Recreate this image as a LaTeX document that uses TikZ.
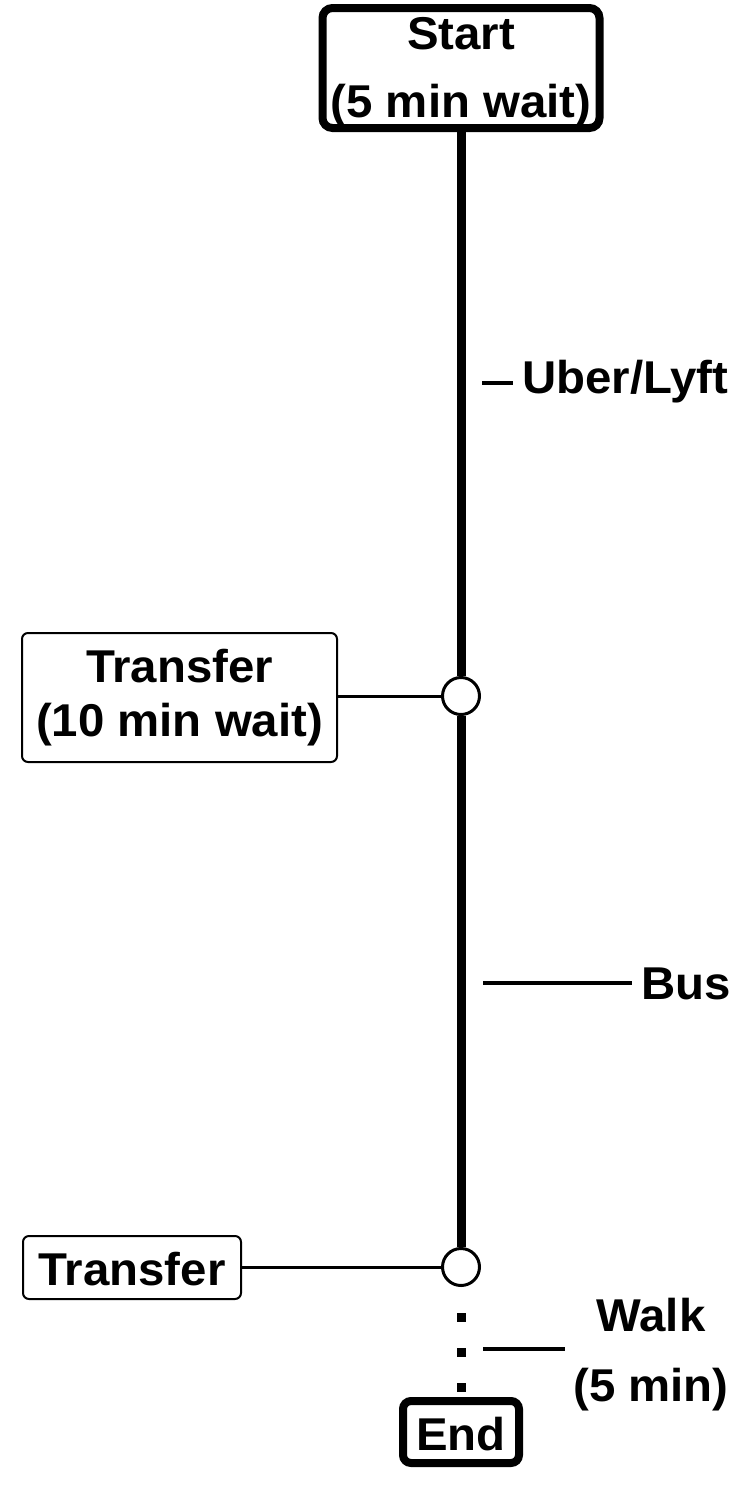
\documentclass[tikz,border=0pt]{standalone}
\usepackage{fontspec}
\setmainfont[FakeStretch=1.03]{Liberation Sans}
\begin{document}
\begin{tikzpicture}[x=1pt,y=-1pt,
  txt/.style={font=\fontsize{46}{54}\selectfont\bfseries, inner sep=0pt},
  bigbox/.style={txt, draw, line width=8pt, rounded corners=10pt, align=center},
  smallbox/.style={txt, draw, line width=2pt, rounded corners=6pt, align=center},
  stop/.style={circle, draw, fill=white, line width=3pt, minimum size=37pt, inner sep=0pt},
  route/.style={line width=9pt},
  walkline/.style={line width=9pt, dash pattern=on 9pt off 26pt, dash phase=9pt},
  link/.style={line width=3pt},
  tick/.style={line width=3.5pt}
]
\useasboundingbox (0,0) rectangle (750,1500);

% boxes
\node[bigbox, minimum width=277pt, minimum height=120pt,
      font=\fontsize{46}{68}\selectfont\bfseries] (start) at (461,68)
      {\rule{0pt}{39.7pt}Start\\(5 min wait)};
\node[smallbox, minimum width=315pt, minimum height=129pt] (t1) at (179.5,697.5)
      {Transfer\\(10 min wait)};
\node[smallbox, minimum width=218pt, minimum height=63pt, text height=35pt, text depth=0pt] (t2) at (132,1267.5)
      {Transfer};
\node[bigbox, rounded corners=8pt, minimum width=116pt, minimum height=62pt, text height=36pt, text depth=0pt] (end) at (461,1432)
      {End};

% stops
\node[stop] (c1) at (461,696) {};
\node[stop] (c2) at (461,1267) {};

% route
\draw[route] (start.south) -- (c1.north);
\draw[route] (c1.south) -- (c2.north);
\draw[walkline] (c2.south) -- (end.north);

% transfer connectors
\draw[link] (c1.west) -- (c1.west -| t1.east);
\draw[link] (c2.west) -- (c2.west -| t2.east);

% mode labels
\node[txt, anchor=base west] (uber) at (522,393) {Uber/Lyft};
\node[txt, anchor=base west] (bus) at (641,999) {Bus};
\node[txt, align=center, font=\fontsize{46}{70}\selectfont\bfseries] (walk) at (651,1355) {Walk\\(5 min)};

\coordinate (u1) at (482,383);
\coordinate (b1) at (483,983);
\coordinate (w1) at (483,1349);
\draw[tick, shorten >=9pt] (u1) -- (u1 -| uber.west);
\draw[tick, shorten >=9pt] (b1) -- (b1 -| bus.west);
\draw[tick, shorten >=8pt] (w1) -- (w1 -| walk.west);
\end{tikzpicture}
\end{document}
